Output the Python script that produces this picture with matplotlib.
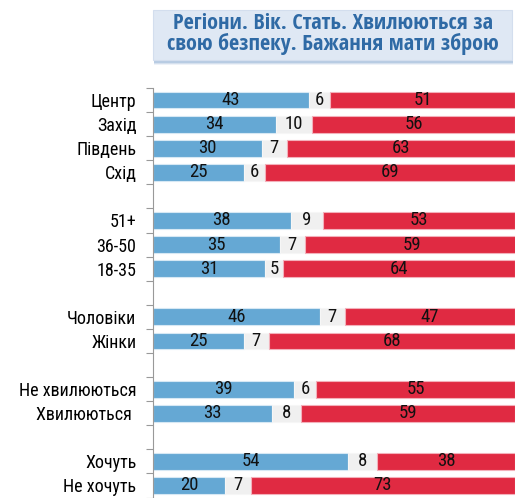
import numpy as np
import matplotlib.pyplot as plt
from matplotlib.patches import FancyBboxPatch

plt.rcParams['font.family'] = ['Roboto Condensed', 'Liberation Sans', 'DejaVu Sans']

# дані
labels = ["Центр", "Захід", "Південь", "Схід", "",
          "51+", "36-50", "18-35", "",
          "Чоловіки", "Жінки", "",
          "Не хвилюються", "Хвилюються ", "",
          "Хочуть", "Не хочуть"]
yes_vals = [43, 34, 30, 25, None, 38, 35, 31, None, 46, 25, None, 39, 33, None, 54, 20]
mid_vals = [6, 10, 7, 6, None, 9, 7, 5, None, 7, 7, None, 6, 8, None, 8, 7]
no_vals = [51, 56, 63, 69, None, 53, 59, 64, None, 47, 68, None, 55, 59, None, 38, 73]

c_blue = '#65a8d4'
c_gray = '#f0f0f0'
c_red = '#e02a42'

fig = plt.figure(figsize=(5.17, 4.98), dpi=100)
ax = fig.add_axes((153/517, 0.0, 362/517, 1 - 88/498))

n = len(labels)
y = np.arange(n)
h = 0.7
for i in range(n):
    if yes_vals[i] is None:
        continue
    a, b, c = yes_vals[i], mid_vals[i], no_vals[i]
    ax.barh(i, a, height=h, color=c_blue, edgecolor='#d6e8f4', lw=0.8)
    ax.barh(i, b, left=a, height=h, color=c_gray, edgecolor='#f6f6f6', lw=0.8)
    ax.barh(i, c, left=a + b, height=h, color=c_red, edgecolor='#f3b0ba', lw=0.8)
    ax.text(a / 2, i, str(a), ha='center', va='center', fontsize=13.5, color='#111111')
    ax.text(a + b / 2, i, str(b), ha='center', va='center', fontsize=13.5, color='#111111')
    ax.text(a + b + c / 2, i, str(c), ha='center', va='center', fontsize=13.5, color='#111111')

ax.set_xlim(0, 100)
ax.set_ylim(n - 0.5 + 0.02, -0.5)
ax.set_yticks(y)
ax.set_yticklabels(labels, fontsize=13)
ax.tick_params(axis='y', which='major', length=0, pad=12)
ax.set_yticks(np.arange(-0.5, n, 1), minor=True)
ax.tick_params(axis='y', which='minor', length=5, color='#999999', width=0.8)
ax.set_xticks([])
for s in ['top', 'right', 'bottom']:
    ax.spines[s].set_visible(False)
ax.spines['left'].set_color('#999999')
ax.spines['left'].set_linewidth(0.8)

# заголовок у рамці
for k, al in [(5, 0.15), (4, 0.25), (3, 0.4)]:
    sh = FancyBboxPatch((153/517 + 1/517, 1 - (60 + k)/498), 359/517, 50/498,
                        boxstyle='square,pad=0', transform=fig.transFigure,
                        fc='#8eaed3', ec='none', alpha=al)
    fig.patches.append(sh)
box = FancyBboxPatch((153/517, 1 - 60/498), 359/517, 50/498, boxstyle='square,pad=0',
                     transform=fig.transFigure, fc='#dfe8f4', ec='#d3deee', lw=0.8)
fig.patches.append(box)
fig.text(333/517, 1 - 34/498, "Регіони. Вік. Стать. Хвилюються за\nсвою безпеку. Бажання мати зброю",
         ha='center', va='center', fontsize=16, color='#2f6aa5',
         family=['Open Sans Condensed', 'DejaVu Sans'], linespacing=0.95)

fig.savefig('out.png', dpi=100)
